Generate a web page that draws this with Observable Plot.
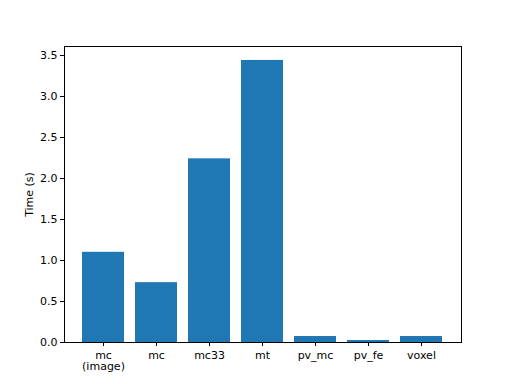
<!DOCTYPE html>
<html><head><meta charset="utf-8">
<script src="https://cdn.jsdelivr.net/npm/d3@7"></script>
<script src="https://cdn.jsdelivr.net/npm/@observablehq/plot@0.6"></script>
<style>body{margin:0;background:#fff;}</style>
</head><body><div id="chart"></div>
<script>
const categories = ["mc\n(image)", "mc", "mc33", "mt", "pv_mc", "pv_fe", "voxel"];
const times = [1.10, 0.73, 2.24, 3.44, 0.073, 0.024, 0.073];
const yTicks = [0, 0.5, 1.0, 1.5, 2.0, 2.5, 3.0, 3.5];

const data = categories.map((c, i) => ({cat: c, t: times[i]}));

const chart = Plot.plot({
  width: 512, height: 384,
  marginLeft: 64, marginRight: 51, marginTop: 46, marginBottom: 42,
  style: {fontFamily: "DejaVu Sans", fontSize: "11px", color: "#000", background: "#fff"},
  x: {domain: categories, paddingInner: 0.2, paddingOuter: 0.34},
  y: {domain: [0, 3.61]},
  marks: [
    Plot.barY(data, {x: "cat", y: "t", fill: "#1f77b4"}),
    Plot.frame({stroke: "#000", strokeWidth: 1}),
    Plot.axisX({tickSize: 4, tickPadding: 4, label: null, fontSize: 11, lineHeight: 1.05}),
    Plot.axisY({ticks: yTicks, tickSize: 4, tickPadding: 3, tickFormat: d => d.toFixed(1),
      label: "Time (s)", labelAnchor: "center", labelArrow: "none", labelOffset: 39, fontSize: 11})
  ]
});
document.getElementById("chart").appendChild(chart);
</script>
</body></html>
